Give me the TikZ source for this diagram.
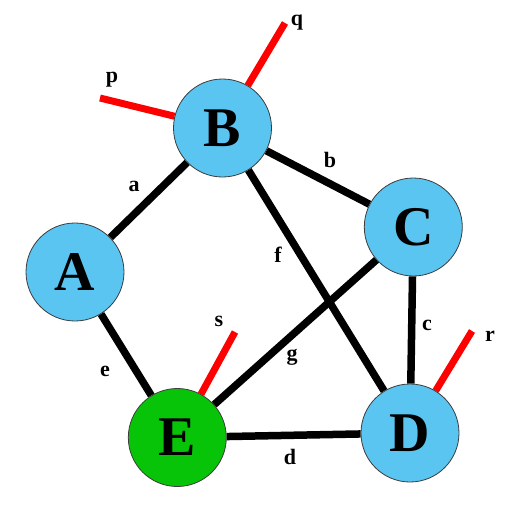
\documentclass[tikz,border=0pt]{standalone}
\usepackage{fontspec}
\setmainfont{Liberation Serif}
\usetikzlibrary{backgrounds}
\definecolor{nodeblue}{RGB}{91,197,242}
\definecolor{nodegreen}{RGB}{8,196,8}
\definecolor{rimgray}{RGB}{60,60,60}
\tikzset{
  vertex/.style={circle,draw=rimgray,line width=0.8pt,fill=nodeblue,minimum size=98pt,inner sep=0pt,font=\fontsize{56}{56}\selectfont\bfseries},
  edge/.style={line width=7.5pt,black},
  stub/.style={line width=7pt,red},
  lab/.style={font=\fontsize{22}{22}\selectfont\bfseries,inner sep=0pt}
}
\begin{document}
\begin{tikzpicture}[x=1pt,y=-1pt]
\useasboundingbox (0,0) rectangle (512,512);
\node[vertex] (B) at (222.5,128) {B};
\node[vertex] (C) at (413.3,227) {C};
\node[vertex] (A) at (75,272) {A};
\node[vertex,fill=nodegreen] (E) at (177.3,437.5) {E};
\node[vertex] (D) at (410,433) {D};
\coordinate (pe) at (100,98);
\coordinate (qe) at (285,23);
\coordinate (se) at (235,332);
\coordinate (re) at (472,331);
\begin{scope}[on background layer]
\draw[edge] (A) -- (B);
\draw[edge] (B) -- (C);
\draw[edge] (B) -- (D);
\draw[edge] (C) -- (D);
\draw[edge] (C) -- (E);
\draw[edge] (E) -- (D);
\draw[edge] (A) -- (E);
\draw[stub] (B) -- (pe);
\draw[stub] (B) -- (qe);
\draw[stub] (E) -- (se);
\draw[stub] (D) -- (re);
\end{scope}
\node[lab] (lp) at (112,80) {p};
\node[lab] (lq) at (297,23) {q};
\node[lab] (la) at (134,186) {a};
\node[lab] (lb) at (330,160) {b};
\node[lab] (lf) at (278,255) {f};
\node[lab] (lg) at (292,357) {g};
\node[lab] (ls) at (219,321) {s};
\node[lab] (ld) at (290,457) {d};
\node[lab] (lc) at (427,325) {c};
\node[lab] (lr) at (490,336) {r};
\node[lab] (le) at (105,371) {e};
\end{tikzpicture}
\end{document}
